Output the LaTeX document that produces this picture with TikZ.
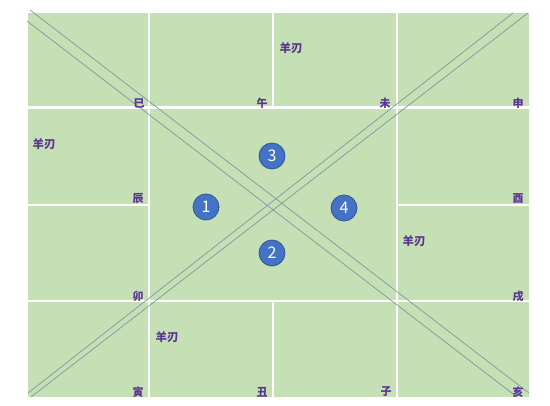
\documentclass[tikz,border=0pt]{standalone}
\usepackage{fontspec}
\setmainfont{Noto Sans CJK SC}
\usepackage{tikz}
\usetikzlibrary{positioning}
\definecolor{cellgreen}{HTML}{C5E0B4}
\definecolor{branchpurple}{HTML}{5A3592}
\definecolor{palaceblue}{HTML}{4472C4}
\definecolor{palaceedge}{HTML}{2F5597}
\definecolor{diaggray}{HTML}{7F97A4}
\tikzstyle{gridline} = [draw,white,line width=1.4pt]
\tikzstyle{mainline} = [draw,white,line width=3pt]
\tikzstyle{diagline} = [draw,diaggray,line width=0.7pt]
\tikzstyle{branch} = [text=branchpurple,inner sep=0pt,font=\fontsize{11}{11}\selectfont\bfseries]
\tikzstyle{blade} = [text=branchpurple,inner sep=0pt,font=\fontsize{11.5}{12}\selectfont\bfseries]
\tikzstyle{palace} = [circle,fill=palaceblue,draw=palaceedge,thick,text=white,minimum size=26pt,inner sep=0pt,font=\fontsize{16}{16}\selectfont]

\begin{document}
\begin{tikzpicture}[x=1pt,y=-1pt]
 \useasboundingbox (0,0) rectangle (550,406);

 \fill[cellgreen] (28,13) rectangle (529,397);

          % grid
          \path[mainline] (28,108) -- (529,108);
          \path[gridline] (28,301) -- (529,301);
          \path[gridline] (28,205) -- (149,205);
          \path[gridline] (397,205) -- (529,205);
          \path[gridline] (149,13) -- (149,397);
          \path[gridline] (397,13) -- (397,397);
          \path[gridline] (273,13) -- (273,108);
          \path[gridline] (273,301) -- (273,397);

          % diagonals
          \coordinate (nwa) at (30,10);
          \coordinate (sea) at (529,393);
          \coordinate (nwb) at (27,21);
          \coordinate (seb) at (517,397);
          \coordinate (nea) at (513,13);
          \coordinate (swa) at (28,393);
          \coordinate (neb) at (528,13);
          \coordinate (swb) at (31,397);
          \path[diagline] (nwa) -- (sea);
          \path[diagline] (nwb) -- (seb);
          \path[diagline] (nea) -- (swa);
          \path[diagline] (neb) -- (swb);

 % branches
 \node[branch] (si) at (139,103) {巳};
 \node[branch] (wu) at (262,103) {午};
 \node[branch] (wei) at (385,103) {未};
 \node[branch] (shen) at (518,103) {申};
 \node[branch] (chen) at (138,199) {辰};
 \node[branch] (you) at (518,199) {酉};
 \node[branch] (mao) at (138,296) {卯};
 \node[branch] (xu) at (518,296) {戌};
 \node[branch] (yin) at (138,392) {寅};
 \node[branch] (chou) at (262,392) {丑};
 \node[branch] (zi) at (386,392) {子};
 \node[branch] (hai) at (518,392) {亥};

 % yangren
 \node[blade] (bladewu) at (291,48) {羊刃};
 \node[blade] (bladechen) at (44,144) {羊刃};
 \node[blade] (bladexu) at (414,241) {羊刃};
 \node[blade] (bladechou) at (167,337) {羊刃};

 % palaces
 \node[palace] (p3) at (272,156) {3};
 \node[palace] (p1) at (206,207) {1};
 \node[palace] (p4) at (344,208) {4};
 \node[palace] (p2) at (272,253) {2};

   \end{tikzpicture}
\end{document}
